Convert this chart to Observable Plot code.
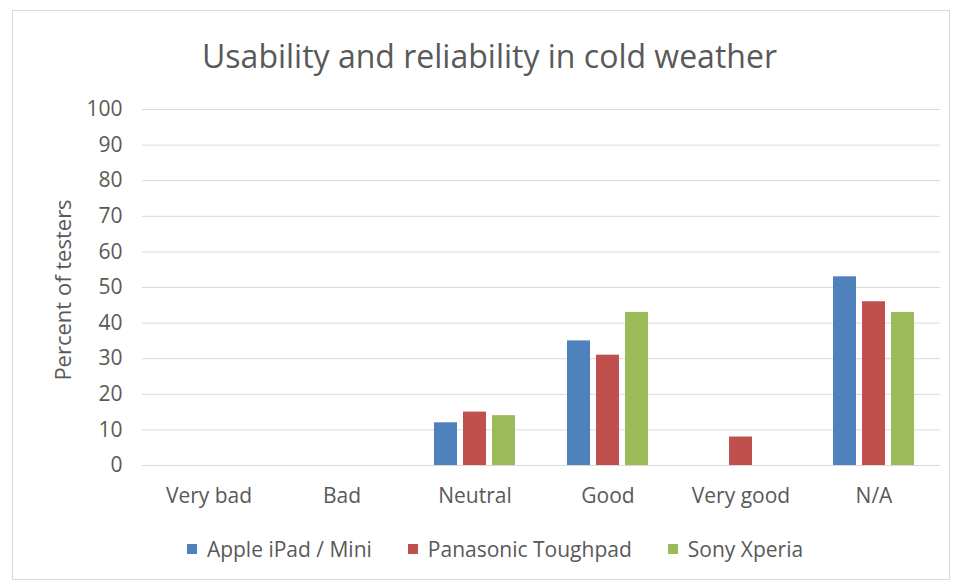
<!DOCTYPE html>
<html><head><meta charset="utf-8">
<script src="https://cdn.jsdelivr.net/npm/d3@7"></script>
<script src="https://cdn.jsdelivr.net/npm/@observablehq/plot@0.6"></script>
<style>
body{margin:0;background:#fff;font-family:"Open Sans",sans-serif;color:#595959;}
#frame{position:absolute;left:12px;top:10px;width:936px;height:568px;border:1px solid #d9d9d9;}
#title{position:absolute;left:20px;top:34px;width:939px;text-align:center;font-size:32px;line-height:44px;color:#595959;}
#chart{position:absolute;left:0;top:90px;}
#ylabel{position:absolute;left:62px;top:290px;transform:translate(-50%,-50%) rotate(-90deg);font-size:22px;white-space:nowrap;color:#595959;}
#legend{position:absolute;left:31px;top:533px;width:928px;display:flex;justify-content:center;gap:36px;font-size:21px;line-height:32px;}
#legend .item{display:flex;align-items:center;gap:10px;}
#legend .sw{width:10px;height:10px;display:inline-block;}
</style></head>
<body>
<div id="frame"></div>
<div id="title">Usability and reliability in cold weather</div>
<div id="chart"></div>
<div id="ylabel">Percent of testers</div>
<div id="legend"></div>
<script>
const categories = ["Very bad","Bad","Neutral","Good","Very good","N/A"];
const series = ["Apple iPad / Mini","Panasonic Toughpad","Sony Xperia"];
const apple = [0,0,12,35,0,53];
const panasonic = [0,0,15,31,8,46];
const sony = [0,0,14,43,0,43];
const colors = ["#4F81BD","#C0504D","#9BBB59"];
const yTicks = [0,10,20,30,40,50,60,70,80,90,100];

const seriesValues = [apple, panasonic, sony];
const table = categories.flatMap((c,i)=>series.map((s,j)=>({category:c, series:s, value:seriesValues[j][i]})));

const chart = Plot.plot({
  width:959, height:440,
  marginTop:19, marginBottom:65, marginLeft:141, marginRight:19,
  style:{fontFamily:"'Open Sans',sans-serif", fontSize:"21px", color:"#595959", background:"transparent"},
  fx:{domain:categories, padding:0, label:null},
  x:{domain:series, paddingInner:0.22, paddingOuter:0.86, axis:null},
  y:{domain:[0,100], label:null},
  color:{domain:series, range:colors},
  marks:[
    Plot.ruleY(yTicks,{stroke:"#d9d9d9", strokeWidth:1}),
    Plot.barY(table,{fx:"category", x:"series", y:"value", fill:"series"}),
    Plot.axisY({ticks:yTicks, tickSize:0, tickPadding:20, label:null, fontSize:21, fill:"#595959"}),
    Plot.axisFx({anchor:"bottom", tickSize:0, tickPadding:23, label:null, fontSize:21, fill:"#595959"})
  ]
});
document.getElementById("chart").appendChild(chart);

const legend = document.getElementById("legend");
series.forEach((s,i)=>{
  const it = document.createElement("div"); it.className="item";
  const sw = document.createElement("span"); sw.className="sw"; sw.style.background=colors[i];
  const tx = document.createElement("span"); tx.textContent=s;
  it.appendChild(sw); it.appendChild(tx); legend.appendChild(it);
});
</script>
</body></html>
